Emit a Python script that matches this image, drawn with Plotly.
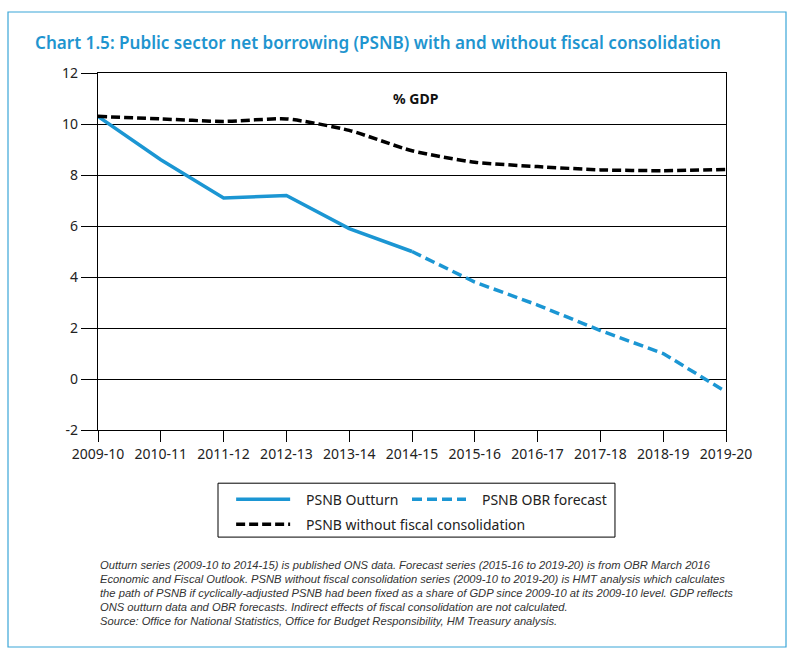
import plotly.graph_objects as go

# financial years on the x axis
years = ["2009-10", "2010-11", "2011-12", "2012-13", "2013-14", "2014-15",
         "2015-16", "2016-17", "2017-18", "2018-19", "2019-20"]

# PSNB, % of GDP
outturn_years = years[:6]
outturn = [10.3, 8.6, 7.1, 7.2, 5.9, 5.0]

forecast_years = years[5:]
forecast = [5.0, 3.8, 2.9, 1.9, 1.0, -0.5]

no_consolidation = [10.3, 10.2, 10.1, 10.2, 9.75, 8.95, 8.5, 8.33, 8.2, 8.17, 8.22]

# y axis ticks (plain hyphen for the minus, as in the original)
y_tickvals = [-2, 0, 2, 4, 6, 8, 10, 12]
y_ticktext = ["-2", "0", "2", "4", "6", "8", "10", "12"]

footnote_lines = [
    "Outturn series (2009-10 to 2014-15) is published ONS data. Forecast series (2015-16 to 2019-20) is from OBR March 2016",
    "Economic and Fiscal Outlook. PSNB without fiscal consolidation series (2009-10 to 2019-20) is HMT analysis which calculates",
    "the path of PSNB if cyclically-adjusted PSNB had been fixed as a share of GDP since 2009-10 at its 2009-10 level. GDP reflects",
    "ONS outturn data and OBR forecasts. Indirect effects of fiscal consolidation are not calculated.",
    "Source: Office for National Statistics, Office for Budget Responsibility, HM Treasury analysis.",
]

BLUE = "#1b96d3"
FONT = "Noto Sans"
NOTE_FONT = "Liberation Sans"
SP = "\u00a0"  # extra room between legend symbol and label

fig = go.Figure()

fig.add_trace(go.Scatter(
    x=outturn_years, y=outturn, mode="lines", name=SP * 3 + "PSNB Outturn" + SP,
    line=dict(color=BLUE, width=3.5), legend="legend"))

fig.add_trace(go.Scatter(
    x=forecast_years, y=forecast, mode="lines", name=SP * 3 + "PSNB OBR forecast",
    line=dict(color=BLUE, width=3.5, dash="10px,5px"), legend="legend"))

fig.add_trace(go.Scatter(
    x=years, y=no_consolidation, mode="lines",
    name=SP * 3 + "PSNB without fiscal consolidation",
    line=dict(color="black", width=3.5, dash="9px,4px", shape="spline", smoothing=0.6),
    legend="legend2"))

legend_style = dict(orientation="h", xanchor="left", yanchor="middle",
                    font=dict(family=FONT, size=14, color="#222"),
                    itemwidth=54, bgcolor="rgba(0,0,0,0)", borderwidth=0)

# footnote, one annotation per line so the line spacing matches
notes = []
for i, line in enumerate(footnote_lines):
    notes.append(dict(
        text=line, x=0.0, y=(430 - 565 - 14 * i) / 357, xref="paper", yref="paper",
        xanchor="left", yanchor="middle", align="left", showarrow=False,
        font=dict(family=NOTE_FONT, size=11.2, color="#333", style="italic")))

fig.update_layout(
    width=794, height=655,
    margin=dict(l=98, r=68, t=73, b=225),
    paper_bgcolor="white", plot_bgcolor="white",
    font=dict(family=FONT, size=14, color="#222"),
    title=dict(text="Chart 1.5: Public sector net borrowing (PSNB) with and without fiscal consolidation",
               x=35 / 794, xanchor="left", xref="container",
               y=1 - 43 / 655, yanchor="middle", yref="container",
               font=dict(family=FONT, size=17.1, color="#1f95cf", weight=600)),
    legend=dict(x=0.212, y=-0.195, **legend_style),
    legend2=dict(x=0.212, y=-0.265, **legend_style),
    annotations=[
        dict(text="<b>% GDP</b>", x=0.506, y=0.96, xref="paper", yref="paper",
             showarrow=False, font=dict(family=FONT, size=14, color="#111")),
    ] + notes,
    shapes=[
        # legend frame
        dict(type="rect", xref="paper", yref="paper",
             x0=0.1911, x1=0.8232, y0=-0.30, y1=-0.149,
             line=dict(color="black", width=1)),
        # outer chart frame
        dict(type="rect", xref="paper", yref="paper",
             x0=(8 - 98) / 628, x1=(786 - 98) / 628,
             y0=(430 - 647) / 357, y1=(430 - 12) / 357,
             line=dict(color="#3aa6d8", width=1.2)),
    ],
)

fig.update_xaxes(
    type="category", range=[0, 10], showgrid=False,
    showline=True, linecolor="black", linewidth=1.2, mirror=True,
    ticks="outside", ticklen=11, tickcolor="black", tickwidth=1.2,
    tickfont=dict(family=FONT, size=14, color="#222"))

fig.update_yaxes(
    range=[-2, 12], tickvals=y_tickvals, ticktext=y_ticktext,
    showgrid=True, gridcolor="black", gridwidth=1,
    showline=True, linecolor="black", linewidth=1.2, mirror=True,
    ticks="outside", ticklen=16, tickcolor="black", tickwidth=1.2,
    zeroline=False, tickfont=dict(family=FONT, size=14, color="#222"))

fig.write_html("out.html", config={"displayModeBar": False},
               post_script="document.body.style.margin = '0';")
